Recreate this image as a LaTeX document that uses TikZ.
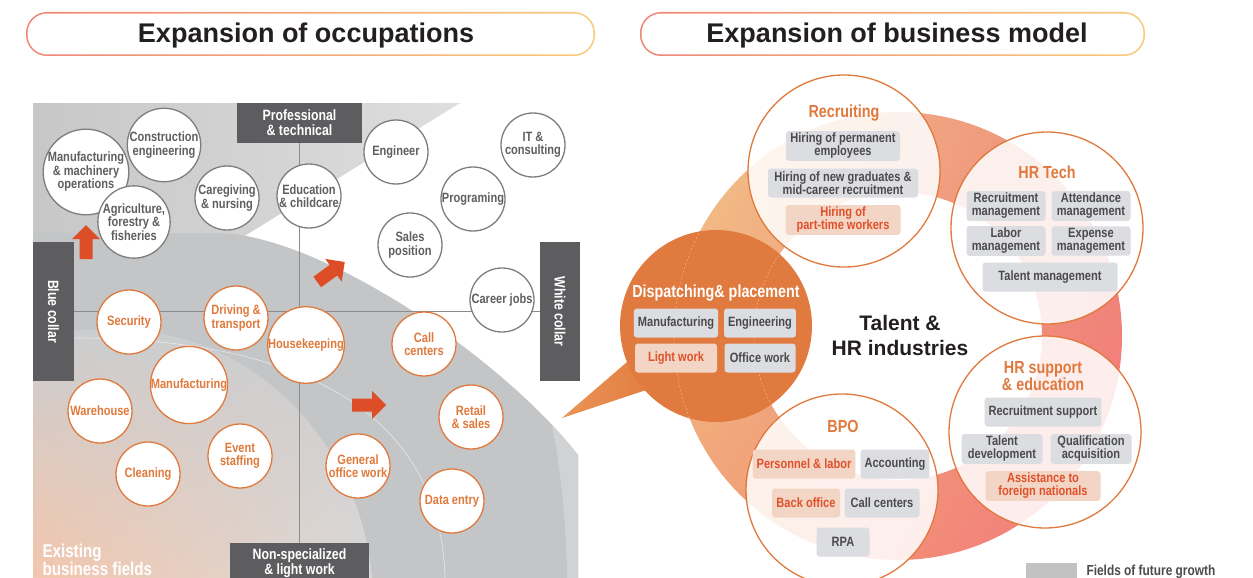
\documentclass[tikz,border=0pt]{standalone}
\usepackage{fontspec}
\usepackage{tikz}
\usetikzlibrary{shadings}

\setmainfont{Liberation Sans}
\newfontfamily\narrowsans[FakeStretch=0.82]{Liberation Sans}

\definecolor{ttlleft}{HTML}{EF8676}
\definecolor{ttlright}{HTML}{F8CB7C}
\definecolor{darktext}{HTML}{231F20}
\definecolor{axisgray}{HTML}{5D5D5F}
\definecolor{axisline}{HTML}{8C8C8E}
\definecolor{futgray}{HTML}{7D7D7D}
\definecolor{futtext}{HTML}{5F5F61}
\definecolor{hrorange}{HTML}{E0793C}
\definecolor{arrowred}{HTML}{DD4E28}
\definecolor{hotred}{HTML}{E0502A}
\definecolor{taggray}{HTML}{DCDDE0}
\definecolor{tagtext}{HTML}{4B4B4D}
\definecolor{tagpeach}{HTML}{F3D5C5}
\definecolor{dispfill}{HTML}{E07A3E}
\definecolor{disptip}{HTML}{EB9456}
\definecolor{ringtan}{HTML}{F2C48A}
\definecolor{ringsalmon}{HTML}{EE8C7A}
\definecolor{ringorange}{HTML}{F0A476}
\definecolor{ringred}{HTML}{F3767A}
\definecolor{panelmid}{HTML}{C3C5C7}
\definecolor{panelouter}{HTML}{D1D2D3}
\definecolor{panelinner}{HTML}{CBCDCF}
\definecolor{panelpeach}{HTML}{F3C6AD}
\definecolor{legendgray}{HTML}{C2C2C2}

\tikzset{
    ttl/.style={font=\bfseries\fontsize{27}{30}\selectfont, text=darktext},
    axisbox/.style={fill=axisgray, text=white, align=center, inner sep=0pt,
        font=\narrowsans\bfseries\fontsize{15}{15}\selectfont},
    future/.style={circle, draw=futgray, fill=white, line width=1.3pt, minimum size=64pt,
        inner sep=0pt, align=center, text=futtext,
        font=\narrowsans\bfseries\fontsize{13.5}{13.5}\selectfont},
    existing/.style={future, draw=hrorange, text=hrorange},
    growth/.style={fill=arrowred},
    bigcircle/.style={circle, draw=hrorange, line width=1.3pt, fill=white, fill opacity=0.86,
        minimum size=192pt, inner sep=0pt},
    head/.style={text=hrorange, align=center,
        font=\narrowsans\bfseries\fontsize{17.5}{17}\selectfont},
    tag/.style={rounded corners=3pt, fill=taggray, text=tagtext, align=center,
        minimum height=29pt, inner xsep=4pt, inner ysep=2pt,
        font=\narrowsans\bfseries\fontsize{13.5}{13}\selectfont},
    hottag/.style={tag, fill=tagpeach, text=hotred}
}

\begin{document}
\begin{tikzpicture}[x=1pt, y=-1pt]
    \useasboundingbox (0,0) rectangle (1253,578);
    \clip (0,0) rectangle (1253,578);

    %titles
    \shade[left color=ttlleft, right color=ttlright, rounded corners=21pt] (26,12) rectangle (595,56);
    \fill[white, rounded corners=19.5pt] (27.6,13.6) rectangle (593.4,54.4);
    \node[ttl] (occtitle) at (306,36) {Expansion of occupations};
    \shade[left color=ttlleft, right color=ttlright, rounded corners=21pt] (640,12) rectangle (1145,56);
    \fill[white, rounded corners=19.5pt] (641.6,13.6) rectangle (1143.4,54.4);
    \node[ttl] (bmtitle) at (897,36) {Expansion of business model};

    %occupation map background
    \shade[left color=black!22, right color=black!13] (33,103) -- (460,103) -- (230,245) -- (33,245) -- cycle;
    \fill[panelmid] (33,233) -- (220,233) .. controls (320,236) and (500,355) .. (578,455)
        -- (578,578) -- (33,578) -- cycle;
    \fill[panelouter] (552,425) .. controls (561,470) and (566,520) .. (567,578)
        -- (578,578) -- (578,455) -- cycle;
    \shade[upper left=panelinner, upper right=panelinner, lower left=panelpeach,
        lower right=black!15] (33,330) -- (120,330) .. controls (250,330) and (360,440) .. (372,578)
        -- (33,578) -- cycle;
    \draw[white, opacity=0.6, line width=0.6pt] (74,338) .. controls (280,338) and (440,400) .. (445,578);

    %axes
    \node[axisbox, minimum width=125pt, minimum height=40pt] (prof) at (299.5,123) {Professional\\\& technical};
    \node[axisbox, minimum width=139pt, minimum height=40pt] (nonspec) at (299.5,563) {Non-specialized\\\& light work};
    \node[axisbox, rotate=-90, minimum width=139pt, minimum height=41pt] (bluecollar) at (53.5,311.5) {Blue collar};
    \node[axisbox, rotate=-90, minimum width=139pt, minimum height=40pt] (whitecollar) at (560,311.5) {White collar};
    \draw[axisline, line width=1.5pt] (prof.south) -- (nonspec.north);
    \draw[axisline, line width=1.5pt] (bluecollar.north) -- (whitecollar.south);

    %growth arrows
    \foreach \x/\y/\a in {86/242/90, 331/272/36, 369/405/0} {
        \fill[growth, shift={(\x,\y)}, rotate=\a] (-17,-6.5) -- (3,-6.5) -- (3,-14) -- (17,0)
            -- (3,14) -- (3,6.5) -- (-17,6.5) -- cycle;
    }

    %fields of future growth
    \node[future] (machinery) at (86,172) {Manufacturing\\\& machinery\\operations};
    \node[future] (construction) at (164,145) {Construction\\engineering};
    \node[future] (agriculture) at (134,222) {Agriculture,\\forestry \&\\fisheries};
    \node[future] (caregiving) at (227,198) {Caregiving\\\& nursing};
    \node[future] (education) at (309,196) {Education\\\& childcare};
    \node[future] (engineer) at (396,152) {Engineer};
    \node[future] (itcons) at (533,145) {IT \&\\consulting};
    \node[future] (programing) at (473,199) {Programing};
    \node[future] (sales) at (410,245) {Sales\\position};
    \node[future] (career) at (502,300) {Career jobs};

    %existing business fields
    \node[existing] (security) at (129,322) {Security};
    \node[existing] (driving) at (236,318) {Driving \&\\transport};
    \node[existing] (housekeeping) at (306,345) {Housekeeping};
    \node[existing] (manufacturing) at (189,385) {Manufacturing};
    \node[existing] (warehouse) at (100,411) {Warehouse};
    \node[existing] (cleaning) at (148,474) {Cleaning};
    \node[existing] (eventstaff) at (240,456) {Event\\staffing};
    \node[existing] (callcenter) at (424,344) {Call\\centers};
    \node[existing] (retail) at (471,417) {Retail\\\& sales};
    \node[existing] (generaloffice) at (358,466) {General\\office work};
    \node[existing] (dataentry) at (452,501) {Data entry};

    \node[text=white, align=left, anchor=west, font=\narrowsans\bfseries\fontsize{18.5}{18}\selectfont]
        (existlabel) at (39,560) {Existing\\business fields};

    %talent & hr ring
    \shade[even odd rule, upper left=ringtan, upper right=ringsalmon, lower left=ringorange,
        lower right=ringred] (898,336) circle[radius=224] (898,336) circle[radius=144];

    %dispatching & placement
    \shade[left color=disptip, right color=dispfill] (562,418) -- (634,356) -- (664,384) -- cycle;
    \node[circle, fill=dispfill, minimum size=192pt, inner sep=0pt] (dispatch) at (716,326) {};
    \begin{scope}
        \clip (dispatch.center) circle[radius=95.5];
        \draw[white, opacity=0.45, line width=0.5pt, dash pattern=on 2pt off 2pt]
            (898,336) circle[radius=224] (898,336) circle[radius=144];
    \end{scope}
    \node[head, text=white] (disphead) at (716,293) {Dispatching\& placement};
    \node[tag, minimum width=82pt] (dmanu) at (676,323) {Manufacturing};
    \node[tag, minimum width=71pt] (deng) at (760,323) {Engineering};
    \node[hottag, minimum width=82pt] (dlight) at (676,358) {Light work};
    \node[tag, minimum width=71pt] (doffice) at (760,358) {Office work};

    %service circles
    \node[bigcircle] (recruiting) at (844,171) {};
    \node[bigcircle] (hrtech) at (1047,228) {};
    \node[bigcircle] (hrsupport) at (1045,432) {};
    \node[bigcircle] (bpo) at (842,490) {};

    \node[font=\bfseries\fontsize{21}{25}\selectfont, text=darktext, align=center]
        (talent) at (900,335) {Talent \&\\HR industries};

    %recruiting
    \node[head] (recruitinghead) at (844,113) {Recruiting};
    \node[tag, minimum width=114pt] (rperm) at (843,146) {Hiring of permanent\\employees};
    \node[tag, minimum width=150pt] (rgrad) at (843,183) {Hiring of new graduates \&\\mid-career recruitment};
    \node[hottag, minimum width=115pt] (rpart) at (843,220) {Hiring of\\part-time workers};

    %hr tech
    \node[head] (hrtechhead) at (1047,172) {HR Tech};
    \node[tag, minimum width=79pt] (trecr) at (1006,206) {Recruitment\\management};
    \node[tag, minimum width=79pt] (tatt) at (1091,206) {Attendance\\management};
    \node[tag, minimum width=79pt] (tlabor) at (1006,241) {Labor\\management};
    \node[tag, minimum width=79pt] (texp) at (1091,241) {Expense\\management};
    \node[tag, minimum width=135pt] (ttalent) at (1050,277) {Talent management};

    %hr support & education
    \node[head] (hrsupporthead) at (1043,376) {HR support\\\& education};
    \node[tag, minimum width=114pt] (srecr) at (1043,412) {Recruitment support};
    \node[tag, minimum width=81pt] (sdev) at (1002,449) {Talent\\development};
    \node[tag, minimum width=81pt] (squal) at (1091,449) {Qualification\\acquisition};
    \node[hottag, minimum width=115pt] (sforeign) at (1043,486) {Assistance to\\foreign nationals};

    %bpo
    \node[head] (bpohead) at (843,426) {BPO};
    \node[hottag, minimum width=102pt] (bperson) at (804,464) {Personnel \& labor};
    \node[tag, minimum width=66pt] (bacc) at (895,464) {Accounting};
    \node[hottag, minimum width=68pt] (bback) at (806,503) {Back office};
    \node[tag, minimum width=75pt] (bcall) at (882,503) {Call centers};
    \node[tag, minimum width=53pt] (brpa) at (843,542) {RPA};

    %legend
    \fill[legendgray] (1026,563) rectangle (1077,580);
    \node[anchor=west, text=tagtext, font=\narrowsans\bfseries\fontsize{14.5}{14.5}\selectfont]
        (legend) at (1083,572) {Fields of future growth};
\end{tikzpicture}
\end{document}
